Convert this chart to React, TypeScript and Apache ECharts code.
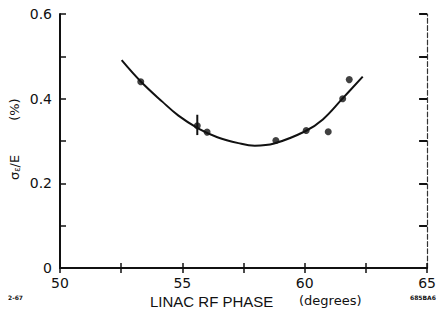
import React, { useEffect, useRef } from "react";
import * as echarts from "echarts";

const measuredPhase = [53.3, 55.61, 56.01, 58.82, 60.06, 60.96, 61.55, 61.82];
const measuredSpread = [0.44, 0.336, 0.321, 0.301, 0.325, 0.322, 0.4, 0.445];
const errorBarPhase = [55.61, 55.61];
const errorBarSpread = [0.314, 0.362];
const fitPhase = [52.52, 53.31, 54.18, 54.84, 55.64, 56.43, 57.29, 57.96, 58.75, 60.02, 60.74, 61.54, 62.37];
const fitSpread = [0.491, 0.44, 0.393, 0.36, 0.33, 0.309, 0.295, 0.289, 0.294, 0.323, 0.351, 0.4, 0.452];
const xMajorLabels = [50, 55, 60, 65];
const yMajorLabels = [0, 0.2, 0.4, 0.6];

const FONT = "DejaVu Sans";

export default function App() {
  const ref = useRef<HTMLDivElement>(null);
  useEffect(() => {
    document.body.style.margin = "0";
    const chart = echarts.init(ref.current!, null, { renderer: "svg" });
    const axisLine = { show: true, lineStyle: { color: "#111", width: 2 } };
    const near = (v: number, arr: number[]) => arr.some((a) => Math.abs(a - v) < 1e-6);
    chart.setOption({
      animation: false,
      backgroundColor: "#fff",
      grid: { left: 60, right: 2, top: 14, bottom: 42 },
      xAxis: [
        {
          type: "value",
          min: 50,
          max: 65,
          interval: 2.5,
          position: "bottom",
          axisLine,
          axisTick: { show: true, inside: true, length: 5, lineStyle: { color: "#111", width: 1.5 } },
          splitLine: { show: false },
          axisLabel: {
            margin: 8,
            color: "#111",
            fontFamily: FONT,
            fontSize: 14,
            formatter: (v: number) => (near(v, xMajorLabels) ? String(v) : ""),
          },
        },
        {
          type: "value",
          min: 50,
          max: 65,
          interval: 2.5,
          position: "top",
          axisLine,
          axisTick: { show: true, inside: true, length: 5, lineStyle: { color: "#111", width: 1.5 } },
          splitLine: { show: false },
          axisLabel: { show: false },
        },
      ],
      yAxis: [
        {
          type: "value",
          min: 0,
          max: 0.6,
          interval: 0.1,
          position: "left",
          axisLine,
          axisTick: { show: true, inside: true, length: 6, lineStyle: { color: "#111", width: 1.5 } },
          splitLine: { show: false },
          axisLabel: {
            margin: 8,
            color: "#111",
            fontFamily: FONT,
            fontSize: 14,
            formatter: (v: number) => (near(v, yMajorLabels) ? (v === 0 ? "0" : v.toFixed(1)) : ""),
          },
        },
        {
          type: "value",
          min: 0,
          max: 0.6,
          interval: 0.1,
          position: "right",
          axisLine: { show: true, lineStyle: { color: "#333", width: 1.2, type: "dashed" } },
          axisTick: { show: true, inside: true, length: 8, lineStyle: { color: "#111", width: 2 } },
          splitLine: { show: false },
          axisLabel: { show: false },
        },
      ],
      series: [
        {
          type: "line",
          data: fitPhase.map((x, i) => [x, fitSpread[i]]),
          smooth: 0.4,
          showSymbol: false,
          lineStyle: { color: "#111", width: 2 },
        },
        {
          type: "line",
          data: errorBarPhase.map((x, i) => [x, errorBarSpread[i]]),
          showSymbol: false,
          lineStyle: { color: "#111", width: 2 },
        },
        {
          type: "scatter",
          data: measuredPhase.map((x, i) => [x, measuredSpread[i]]),
          symbol: "circle",
          symbolSize: 7,
          itemStyle: { color: "#111" },
        },
      ],
      graphic: [
        {
          type: "text",
          left: 150,
          top: 294,
          style: {
            text: "LINAC RF PHASE",
            fontFamily: "Liberation Sans",
            fontSize: 15,
            fill: "#111",
          },
        },
        {
          type: "text",
          left: 299,
          top: 294,
          style: {
            text: "(degrees)",
            fontFamily: FONT,
            fontSize: 13,
            fill: "#111",
          },
        },
        {
          type: "text",
          x: 21,
          y: 180,
          rotation: Math.PI / 2,
          style: {
            text: "{s|σ}{sub|ε}{s|/E}{gap|}{s|(%)}",
            rich: {
              s: { fontFamily: FONT, fontSize: 13, fill: "#111" },
              sub: { fontFamily: FONT, fontSize: 8, fill: "#111", verticalAlign: "bottom", padding: [6, 0, 0, 0] },
              gap: { width: 34 },
            },
            align: "left",
            verticalAlign: "bottom",
          },
        },
        {
          type: "text",
          left: 8,
          top: 294,
          style: { text: "2-67", fontFamily: FONT, fontSize: 6, fontWeight: "bold", fill: "#111" },
        },
        {
          type: "text",
          left: 410,
          top: 294,
          style: { text: "685BA6", fontFamily: FONT, fontSize: 6, fontWeight: "bold", fill: "#111" },
        },
      ],
    });
    return () => chart.dispose();
  }, []);
  return <div ref={ref} style={{ width: 439, height: 310, position: "absolute", left: 0, top: 0 }} />;
}
